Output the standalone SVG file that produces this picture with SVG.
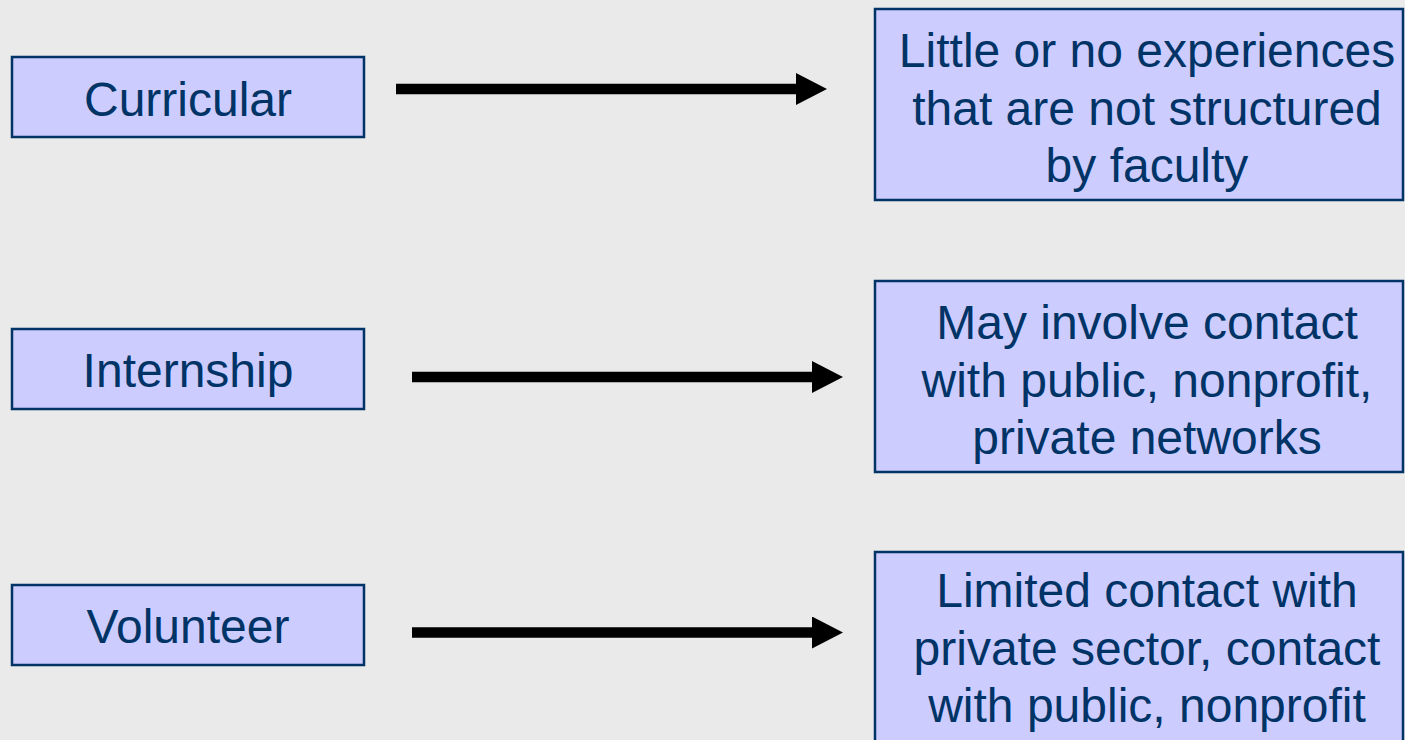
<svg xmlns="http://www.w3.org/2000/svg" width="1405" height="740" viewBox="0 0 1405 740">
  <defs>
    <style>
      .box { fill: #CCCCFF; stroke: #003366; stroke-width: 2.5; }
      .lbl { font-family: "Liberation Sans", Arial, sans-serif; font-size: 48px; fill: #003366; text-anchor: middle; }
      .conn { stroke: #000000; stroke-width: 10.5; fill: none; marker-end: url(#head); }
    </style>
    <marker id="head" viewBox="0 0 31 32" refX="1" refY="16" markerWidth="31" markerHeight="32" markerUnits="userSpaceOnUse" orient="auto">
      <path d="M0,0 L31,16 L0,32 Z" fill="#000000"/>
    </marker>
  </defs>
  <rect x="0" y="0" width="1405" height="740" fill="#EAEAEA"/>

  <g id="curricular">
    <rect class="box" x="12" y="57" width="352" height="80"/>
    <text class="lbl" x="188" y="116">Curricular</text>
  </g>
  <g id="internship">
    <rect class="box" x="12" y="329" width="352" height="80"/>
    <text class="lbl" x="188" y="387">Internship</text>
  </g>
  <g id="volunteer">
    <rect class="box" x="12" y="585" width="352" height="80"/>
    <text class="lbl" x="188" y="643">Volunteer</text>
  </g>

  <g id="curricular-outcome">
    <rect class="box" x="875" y="9" width="528" height="191"/>
    <text class="lbl" x="1147" y="67">Little or no experiences</text>
    <text class="lbl" x="1147" y="124.5">that are not structured</text>
    <text class="lbl" x="1147" y="182">by faculty</text>
  </g>
  <g id="internship-outcome">
    <rect class="box" x="875" y="281" width="528" height="191"/>
    <text class="lbl" x="1147" y="339">May involve contact</text>
    <text class="lbl" x="1147" y="396.5">with public, nonprofit,</text>
    <text class="lbl" x="1147" y="454">private networks</text>
  </g>
  <g id="volunteer-outcome">
    <rect class="box" x="875" y="552" width="528" height="200"/>
    <text class="lbl" x="1147" y="607">Limited contact with</text>
    <text class="lbl" x="1147" y="664.5">private sector, contact</text>
    <text class="lbl" x="1147" y="722">with public, nonprofit</text>
  </g>

  <g id="connectors">
    <line class="conn" x1="396" y1="89" x2="797" y2="89"/>
    <line class="conn" x1="412" y1="377" x2="813" y2="377"/>
    <line class="conn" x1="412" y1="632.5" x2="813" y2="632.5"/>
  </g>
</svg>
